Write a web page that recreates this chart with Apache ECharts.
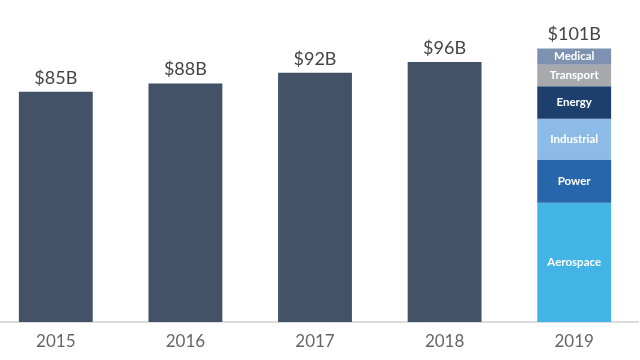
<!DOCTYPE html>
<html>
<head>
<meta charset="utf-8">
<script src="https://cdn.jsdelivr.net/npm/echarts@6/dist/echarts.min.js"></script>
<style>html,body{margin:0;padding:0;background:#fff;overflow:hidden;width:640px;height:360px}#c{position:absolute;left:-9px;top:0;width:648px;height:360px}</style>
</head>
<body>
<div id="c"></div>
<script>
const years = ['2015','2016','2017','2018','2019'];
const totals = [85, 88, 92, 96, 101];
const baseValues = [85, 88, 92, 96, null];
const segNames = ['Aerospace','Power','Industrial','Energy','Transport','Medical'];
const seg2019 = [44, 16, 15, 12, 8, 6];
const segColors = ['#42b4e6','#2866ab','#8dbbe8','#1c3f6e','#a8a9ad','#7f91b0'];

const chart = echarts.init(document.getElementById('c'));
const series = [];
series.push({
  name: 'Total', type: 'bar', stack: 's', barWidth: '57%',
  data: baseValues.map(v => v === null ? '-' : v),
  itemStyle: {color: '#435267'}, silent: true
});
segNames.forEach((n, i) => {
  series.push({
    name: n, type: 'bar', stack: 's', barWidth: '57%',
    data: years.map((y, j) => j === years.length - 1 ? seg2019[i] : '-'),
    itemStyle: {color: segColors[i]},
    label: {show: true, position: 'inside', formatter: n, color: '#fff',
      fontFamily: 'Lato', fontSize: 11.5, fontWeight: 'bold'}
  });
});
series.push({
  name: 'labels', type: 'bar', barWidth: '57%', barGap: '-100%',
  data: totals, z: 0,
  itemStyle: {color: 'rgba(0,0,0,0)'},
  label: {show: true, position: 'top', distance: 5, formatter: p => '$' + p.value + 'B',
    color: '#444', fontFamily: 'Lato', fontSize: 18}
});
chart.setOption({
  animation: false,
  grid: {left: 0, right: 0, top: 24, bottom: 38},
  xAxis: {type: 'category', data: years,
    axisLine: {lineStyle: {color: '#dcdcdc', width: 2}},
    axisTick: {show: false},
    axisLabel: {color: '#666', fontFamily: 'Lato', fontSize: 17, margin: 11}},
  yAxis: {type: 'value', min: 0, max: 110, show: false, splitLine: {show: false}},
  series: series
});
</script>
</body>
</html>
